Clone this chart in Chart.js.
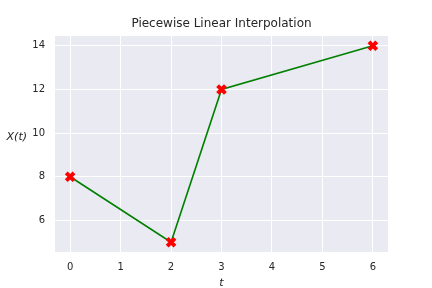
<!DOCTYPE html>
<html>
<head>
<meta charset="utf-8">
<script src="https://cdn.jsdelivr.net/npm/chart.js@4"></script>
<style>
  html, body { margin: 0; padding: 0; background: #fff; }
  #wrap { width: 432px; height: 288px; }
</style>
</head>
<body>
<div id="wrap"><canvas id="myChart" width="432" height="288"></canvas></div>
<script>
// data
const tValues = [0, 2, 3, 6];
const xValues = [8, 5, 12, 14];
const xTicks = [0, 1, 2, 3, 4, 5, 6];
const yTicks = [6, 8, 10, 12, 14];

const textColor = '#262626';
const fontFamily = '"DejaVu Sans", sans-serif';

// seaborn darkgrid panel background
const panelBg = {
    id: 'panelBg',
    beforeDraw(chart) {
        const { ctx, chartArea } = chart;
        ctx.save();
        ctx.fillStyle = '#eaeaf2';
        ctx.fillRect(chartArea.left, chartArea.top, chartArea.right - chartArea.left, chartArea.bottom - chartArea.top);
        ctx.restore();
    }
};

// title centred over the axes, horizontal y label like matplotlib rotation=0
const labels = {
    id: 'labels',
    afterDraw(chart) {
        const { ctx, chartArea } = chart;
        ctx.save();
        ctx.fillStyle = textColor;
        ctx.textBaseline = 'middle';

        ctx.font = '12px ' + fontFamily;
        ctx.textAlign = 'center';
        ctx.fillText('Piecewise Linear Interpolation', (chartArea.left + chartArea.right) / 2, chartArea.top - 12);

        ctx.font = 'italic 11px ' + fontFamily;
        ctx.textAlign = 'right';
        ctx.fillText('X(t)', chartArea.left - 28, chartArea.top + 101);
        ctx.restore();
    }
};

const ctx = document.getElementById('myChart').getContext('2d');
new Chart(ctx, {
    type: 'scatter',
    data: {
        datasets: [{
            data: tValues.map((t, i) => ({ x: t, y: xValues[i] })),
            showLine: true,
            borderColor: '#008000',
            borderWidth: 1.6,
            pointStyle: 'crossRot',
            pointRadius: 5.5,
            pointHoverRadius: 5.5,
            pointBorderColor: '#ff0000',
            pointBorderWidth: 4,
            pointBackgroundColor: '#ff0000'
        }]
    },
    options: {
        responsive: false,
        animation: false,
        layout: { padding: { left: 0, right: 44, top: 36, bottom: 0 } },
        plugins: {
            legend: { display: false },
            tooltip: { enabled: false },
            title: { display: false }
        },
        scales: {
            x: {
                type: 'linear',
                min: -0.3,
                max: 6.3,
                afterBuildTicks(scale) { scale.ticks = xTicks.map(v => ({ value: v })); },
                afterFit(scale) { scale.height = 36; },
                border: { display: false },
                grid: { color: '#ffffff', lineWidth: 1, drawTicks: false },
                ticks: {
                    color: textColor,
                    font: { family: fontFamily, size: 10 },
                    padding: 9,
                    includeBounds: false
                },
                title: {
                    display: true,
                    text: 't',
                    color: textColor,
                    font: { family: fontFamily, size: 11, style: 'italic' },
                    padding: { top: 0, bottom: -2 }
                }
            },
            y: {
                type: 'linear',
                min: 4.55,
                max: 14.45,
                afterBuildTicks(scale) { scale.ticks = yTicks.map(v => ({ value: v })); },
                afterFit(scale) { scale.width = 55; },
                border: { display: false },
                grid: { color: '#ffffff', lineWidth: 1, drawTicks: false },
                ticks: {
                    color: textColor,
                    font: { family: fontFamily, size: 10 },
                    padding: 10,
                    includeBounds: false
                }
            }
        }
    },
    plugins: [panelBg, labels]
});
</script>
</body>
</html>
